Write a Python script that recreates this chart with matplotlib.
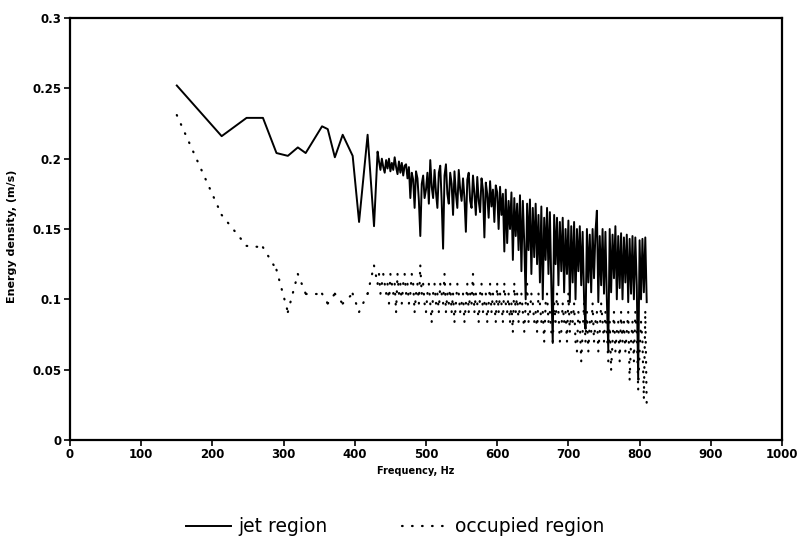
import matplotlib
matplotlib.use("Agg")
import matplotlib.pyplot as plt
from matplotlib.collections import LineCollection
from matplotlib.lines import Line2D

# frequency grid (Hz), shared by both curves
freq = [150, 213, 248, 271, 290, 306, 320, 331, 354, 362, 372, 383, 397, 406, 418, 427,
        432, 434, 436, 438, 440, 442, 444, 446, 448, 450,
        452, 454, 456, 458, 460, 462, 464, 466, 468, 470,
        472, 474, 476, 478, 480, 482, 484, 486, 488, 490,
        492, 494, 496, 498, 500, 502, 504, 506, 508, 510,
        512, 514, 516, 518, 520, 522, 524, 526, 528, 530,
        532, 534, 536, 538, 540, 542, 544, 546, 548, 550,
        552, 554, 556, 558, 560, 562, 564, 566, 568, 570,
        572, 574, 576, 578, 580, 582, 584, 586, 588, 590,
        592, 594, 596, 598, 600, 602, 604, 606, 608, 610,
        612, 614, 616, 618, 620, 622, 624, 626, 628, 630,
        632, 634, 636, 638, 640, 642, 644, 646, 648, 650,
        652, 654, 656, 658, 660, 662, 664, 666, 668, 670,
        672, 674, 676, 678, 680, 682, 684, 686, 688, 690,
        692, 694, 696, 698, 700, 702, 704, 706, 708, 710,
        712, 714, 716, 718, 720, 722, 724, 726, 728, 730,
        732, 734, 736, 738, 740, 742, 744, 746, 748, 750,
        752, 754, 756, 758, 760, 762, 764, 766, 768, 770,
        772, 774, 776, 778, 780, 782, 784, 786, 788, 790,
        792, 794, 796, 798, 800, 802, 804, 806, 808, 810]

jet = [0.252, 0.216, 0.229, 0.229, 0.204, 0.202, 0.208, 0.204, 0.223, 0.221, 0.201, 0.217, 0.202, 0.155, 0.217, 0.152,
       0.205, 0.198, 0.192, 0.200, 0.194, 0.190, 0.199, 0.193, 0.200, 0.191,
       0.197, 0.192, 0.201, 0.194, 0.189, 0.198, 0.190, 0.197, 0.188, 0.195,
       0.196, 0.186, 0.194, 0.172, 0.190, 0.185, 0.165, 0.191, 0.186, 0.170,
       0.145, 0.182, 0.188, 0.172, 0.178, 0.190, 0.168, 0.199, 0.180, 0.172,
       0.192, 0.176, 0.165, 0.190, 0.195, 0.170, 0.136, 0.188, 0.196, 0.175,
       0.168, 0.190, 0.182, 0.160, 0.191, 0.175, 0.165, 0.192, 0.178, 0.170,
       0.186, 0.172, 0.148, 0.185, 0.190, 0.170, 0.165, 0.188, 0.175, 0.160,
       0.187, 0.170, 0.162, 0.186, 0.178, 0.144, 0.183, 0.175, 0.158, 0.184,
       0.166, 0.178, 0.155, 0.181, 0.176, 0.150, 0.180, 0.160, 0.175, 0.134,
       0.178, 0.140, 0.170, 0.150, 0.176, 0.128, 0.172, 0.145, 0.168, 0.135,
       0.174, 0.120, 0.170, 0.140, 0.100, 0.168, 0.135, 0.171, 0.118, 0.165,
       0.130, 0.168, 0.125, 0.160, 0.112, 0.166, 0.100, 0.158, 0.128, 0.165,
       0.118, 0.162, 0.110, 0.069, 0.160, 0.125, 0.158, 0.110, 0.155, 0.120,
       0.158, 0.105, 0.150, 0.118, 0.156, 0.098, 0.152, 0.112, 0.155, 0.100,
       0.150, 0.120, 0.152, 0.110, 0.148, 0.100, 0.079, 0.150, 0.112, 0.146,
       0.105, 0.150, 0.115, 0.148, 0.163, 0.098, 0.145, 0.110, 0.150, 0.104,
       0.148, 0.100, 0.064, 0.150, 0.105, 0.146, 0.115, 0.152, 0.100, 0.145,
       0.108, 0.147, 0.100, 0.144, 0.112, 0.146, 0.098, 0.143, 0.104, 0.145,
       0.100, 0.144, 0.110, 0.043, 0.142, 0.100, 0.143, 0.105, 0.144, 0.098]

occupied = [0.231, 0.160, 0.138, 0.137, 0.121, 0.091, 0.118, 0.104, 0.104, 0.097, 0.104, 0.097, 0.104, 0.091, 0.104, 0.124,
            0.111, 0.118, 0.104, 0.111, 0.118, 0.111, 0.104, 0.111, 0.097, 0.118,
            0.111, 0.104, 0.111, 0.091, 0.118, 0.104, 0.111, 0.097, 0.111, 0.118,
            0.104, 0.111, 0.097, 0.104, 0.118, 0.111, 0.091, 0.104, 0.111, 0.097,
            0.124, 0.104, 0.111, 0.097, 0.091, 0.104, 0.111, 0.097, 0.084, 0.104,
            0.111, 0.097, 0.104, 0.091, 0.111, 0.104, 0.097, 0.118, 0.091, 0.104,
            0.097, 0.111, 0.091, 0.104, 0.084, 0.097, 0.111, 0.104, 0.091, 0.097,
            0.104, 0.084, 0.097, 0.111, 0.091, 0.104, 0.097, 0.118, 0.091, 0.104,
            0.097, 0.084, 0.104, 0.111, 0.091, 0.097, 0.104, 0.084, 0.097, 0.111,
            0.091, 0.104, 0.097, 0.084, 0.111, 0.091, 0.104, 0.097, 0.084, 0.111,
            0.097, 0.091, 0.104, 0.084, 0.097, 0.077, 0.111, 0.091, 0.104, 0.084,
            0.097, 0.104, 0.091, 0.077, 0.097, 0.111, 0.084, 0.091, 0.104, 0.097,
            0.084, 0.091, 0.077, 0.104, 0.097, 0.084, 0.091, 0.070, 0.097, 0.104,
            0.084, 0.091, 0.077, 0.070, 0.097, 0.084, 0.104, 0.091, 0.070, 0.077,
            0.097, 0.084, 0.091, 0.070, 0.104, 0.077, 0.091, 0.084, 0.097, 0.070,
            0.063, 0.091, 0.084, 0.056, 0.077, 0.097, 0.070, 0.091, 0.063, 0.084,
            0.077, 0.097, 0.070, 0.084, 0.091, 0.063, 0.077, 0.097, 0.084, 0.070,
            0.091, 0.077, 0.056, 0.084, 0.050, 0.070, 0.091, 0.063, 0.077, 0.084,
            0.056, 0.091, 0.070, 0.084, 0.063, 0.077, 0.091, 0.043, 0.070, 0.084,
            0.056, 0.091, 0.077, 0.036, 0.063, 0.084, 0.070, 0.030, 0.091, 0.024]

xticks = [0, 100, 200, 300, 400, 500, 600, 700, 800, 900, 1000]
yticks = [0, 0.05, 0.1, 0.15, 0.2, 0.25, 0.3]
ytick_labels = ["0", "0.05", "0.1", "0.15", "0.2", "0.25", "0.3"]

dot_style = (0, (0.3, 4.2))

fig = plt.figure(figsize=(8.01, 5.46), dpi=100)
ax = fig.add_axes([70 / 801, 1 - 440 / 546, 712 / 801, 422 / 546])

# plotter style dotted trace: dot pattern restarts at every sample
segs = [[(freq[i], occupied[i]), (freq[i + 1], occupied[i + 1])] for i in range(len(freq) - 1)]
lc = LineCollection(segs, colors="black", linewidths=1.6, linestyles=[dot_style], capstyle="round")
ax.add_collection(lc)

jet_line, = ax.plot(freq, jet, color="black", lw=1.4)

ax.set_xlim(0, 1000)
ax.set_ylim(0, 0.3)
ax.set_xticks(xticks)
ax.set_yticks(yticks)
ax.set_yticklabels(ytick_labels)
ax.tick_params(direction="out", length=4, width=1.2, labelsize=8.5, pad=2)
for lbl in ax.get_xticklabels() + ax.get_yticklabels():
    lbl.set_fontweight("bold")
for sp in ax.spines.values():
    sp.set_linewidth(1.6)

ax.set_xlabel("Frequency, Hz", fontsize=7, fontweight="bold")
ax.xaxis.set_label_coords(0.486, -0.062)
ax.set_ylabel("Energy density, (m/s)", fontsize=8, fontweight="bold")
ax.yaxis.set_label_coords(-0.075, 0.483)

occ_handle = Line2D([], [], color="black", lw=1.6, linestyle=dot_style, dash_capstyle="round")
fig.legend([jet_line, occ_handle], ["jet region", "occupied region"],
           loc="center", bbox_to_anchor=(0.493, 1 - 527 / 546), ncol=2,
           frameon=False, fontsize=13.5, handlelength=2.4, columnspacing=4.0,
           handletextpad=0.4)

plt.savefig("out.png", dpi=100)
